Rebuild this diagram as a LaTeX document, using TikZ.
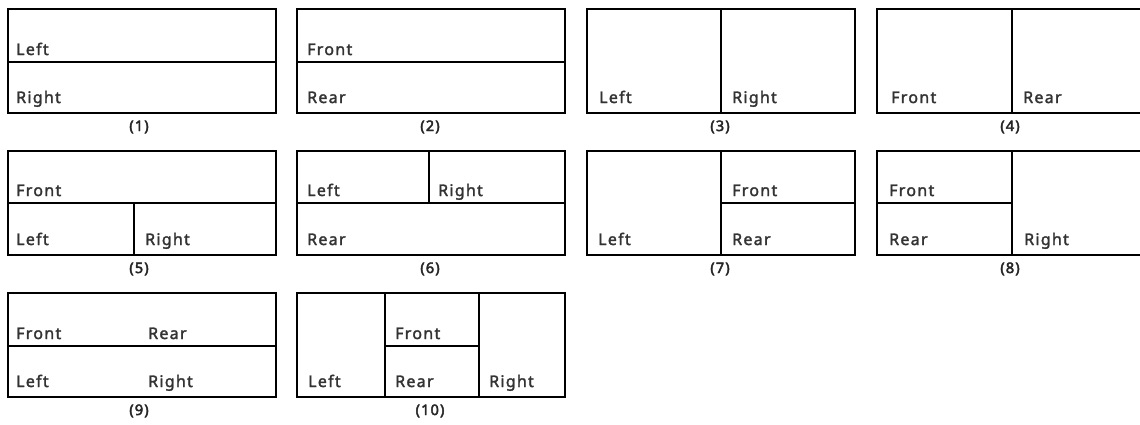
\documentclass[tikz,border=0pt]{standalone}
\usepackage{fontspec}
\setmainfont{Noto Sans}
\newfontfamily\paneltextfont{Noto Sans}[FakeBold=2,LetterSpace=8]
\newfontfamily\captionfont{Noto Sans}[FakeBold=3,LetterSpace=8]
\begin{document}
\begin{tikzpicture}[x=1pt,y=-1pt,
  frame/.style={draw=black,line width=1.8pt,minimum width=268pt,minimum height=104pt,anchor=north west,inner sep=0pt},
  div/.style={draw=black,line width=1.8pt},
  txt/.style={anchor=base west,inner sep=0pt,text=black!80,font=\paneltextfont\fontsize{16}{18}\selectfont},
  captxt/.style={anchor=base,inner sep=0pt,text=black!85,font=\captionfont\fontsize{14.5}{16}\selectfont}]
\useasboundingbox (0,0) rectangle (1140,424);
% (1)
\begin{scope}[shift={(7,8)}]
\node[frame] (p1) at (0,0) {};
\draw[div] (0,54) -- (268,54);
\node[txt] (p1a) at (9,47) {Left};
\node[txt] (p1b) at (9,95) {Right};
\node[captxt] (p1c) at (132,123) {(1)};
\end{scope}
% (2)
\begin{scope}[shift={(296,8)}]
\node[frame] (p2) at (0,0) {};
\draw[div] (0,54) -- (268,54);
\node[txt] (p2a) at (11,47) {Front};
\node[txt] (p2b) at (11,95) {Rear};
\node[captxt] (p2c) at (134,123) {(2)};
\end{scope}
% (3)
\begin{scope}[shift={(586,8)}]
\node[frame] (p3) at (0,0) {};
\draw[div] (135,0) -- (135,104);
\node[txt] (p3a) at (13,95) {Left};
\node[txt] (p3b) at (146,95) {Right};
\node[captxt] (p3c) at (134,123) {(3)};
\end{scope}
% (4)
\begin{scope}[shift={(876,8)}]
\node[frame] (p4) at (0,0) {};
\draw[div] (136,0) -- (136,104);
\node[txt] (p4a) at (15,95) {Front};
\node[txt] (p4b) at (147,95) {Rear};
\node[captxt] (p4c) at (134,123) {(4)};
\end{scope}
% (5)
\begin{scope}[shift={(7,150)}]
\node[frame] (p5) at (0,0) {};
\draw[div] (0,53) -- (268,53);
\draw[div] (127,53) -- (127,104);
\node[txt] (p5a) at (9,46) {Front};
\node[txt] (p5b) at (9,95) {Left};
\node[txt] (p5d) at (138,95) {Right};
\node[captxt] (p5c) at (132,123) {(5)};
\end{scope}
% (6)
\begin{scope}[shift={(296,150)}]
\node[frame] (p6) at (0,0) {};
\draw[div] (0,53) -- (268,53);
\draw[div] (133,0) -- (133,53);
\node[txt] (p6a) at (11,46) {Left};
\node[txt] (p6b) at (142,46) {Right};
\node[txt] (p6d) at (11,95) {Rear};
\node[captxt] (p6c) at (134,123) {(6)};
\end{scope}
% (7)
\begin{scope}[shift={(586,150)}]
\node[frame] (p7) at (0,0) {};
\draw[div] (135,0) -- (135,104);
\draw[div] (135,53) -- (268,53);
\node[txt] (p7a) at (12,95) {Left};
\node[txt] (p7b) at (146,46) {Front};
\node[txt] (p7d) at (146,95) {Rear};
\node[captxt] (p7c) at (134,123) {(7)};
\end{scope}
% (8)
\begin{scope}[shift={(876,150)}]
\node[frame] (p8) at (0,0) {};
\draw[div] (136,0) -- (136,104);
\draw[div] (0,53) -- (136,53);
\node[txt] (p8a) at (13,46) {Front};
\node[txt] (p8b) at (13,95) {Rear};
\node[txt] (p8d) at (148,95) {Right};
\node[captxt] (p8c) at (134,123) {(8)};
\end{scope}
% (9)
\begin{scope}[shift={(7,292)}]
\node[frame] (p9) at (0,0) {};
\draw[div] (0,54) -- (268,54);
\node[txt] (p9a) at (9,47) {Front};
\node[txt] (p9b) at (141,47) {Rear};
\node[txt] (p9d) at (9,95) {Left};
\node[txt] (p9e) at (141,95) {Right};
\node[captxt] (p9c) at (132,123) {(9)};
\end{scope}
% (10)
\begin{scope}[shift={(296,292)}]
\node[frame] (p10) at (0,0) {};
\draw[div] (89,0) -- (89,104);
\draw[div] (183,0) -- (183,104);
\draw[div] (89,54) -- (183,54);
\node[txt] (p10a) at (12,95) {Left};
\node[txt] (p10b) at (99,47) {Front};
\node[txt] (p10d) at (99,95) {Rear};
\node[txt] (p10e) at (193,95) {Right};
\node[captxt] (p10c) at (134,123) {(10)};
\end{scope}
\end{tikzpicture}
\end{document}
